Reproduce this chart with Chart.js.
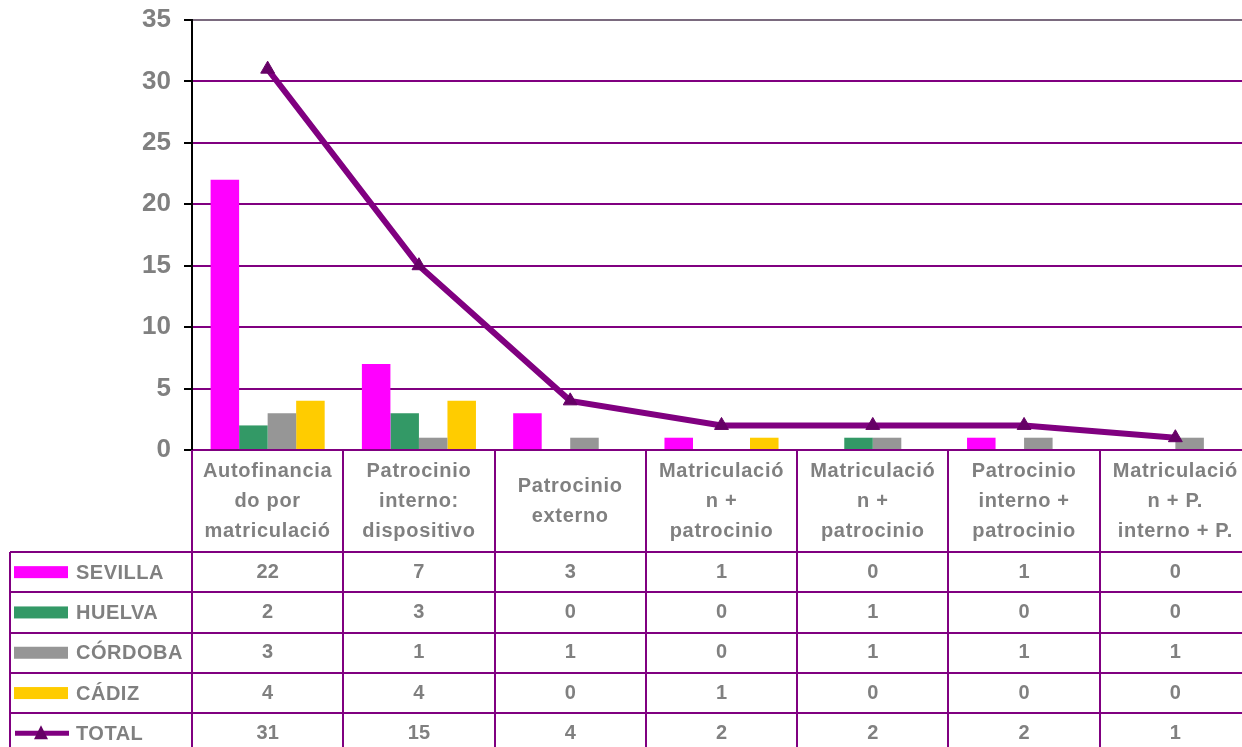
<!DOCTYPE html>
<html>
<head>
<meta charset="utf-8">
<script src="https://cdn.jsdelivr.net/npm/chart.js@4"></script>
<style>
  html, body { margin: 0; padding: 0; background: #fff; overflow: hidden; }
  canvas { display: block; }
</style>
</head>
<body>
<canvas id="chart" width="1252" height="747"></canvas>
<script>
const categories = [
  ['Autofinancia', 'do por', 'matriculació'],
  ['Patrocinio', 'interno:', 'dispositivo'],
  ['Patrocinio', 'externo'],
  ['Matriculació', 'n +', 'patrocinio'],
  ['Matriculació', 'n +', 'patrocinio'],
  ['Patrocinio', 'interno +', 'patrocinio'],
  ['Matriculació', 'n + P.', 'interno + P.'],
];
const seriesNames = ['SEVILLA', 'HUELVA', 'CÓRDOBA', 'CÁDIZ', 'TOTAL'];
const seriesColors = ['#FF00FF', '#339966', '#969696', '#FFCC00', '#800080'];
const sevilla = [22, 7, 3, 1, 0, 1, 0];
const huelva = [2, 3, 0, 0, 1, 0, 0];
const cordoba = [3, 1, 1, 0, 1, 1, 1];
const cadiz = [4, 4, 0, 1, 0, 0, 0];
const total = [31, 15, 4, 2, 2, 2, 1];
const yTicks = [0, 5, 10, 15, 20, 25, 30, 35];

const FONT = "'Liberation Sans', Arial, sans-serif";
const GRAY = '#808080';
const PURPLE = '#800080';

// data table under the plot, lined up with the x scale
const tablePlugin = {
  id: 'dataTable',
  afterDraw(chart) {
    const ctx = chart.ctx;
    const area = chart.chartArea;
    const xs = chart.scales.x;
    const n = categories.length;
    const colW = (area.right - area.left) / n;
    const headBottom = area.bottom + 102;
    const rowH = 40.3;
    const bottom = chart.height + 10;
    const rows = [sevilla, huelva, cordoba, cadiz, total];

    ctx.save();
    ctx.strokeStyle = PURPLE;
    ctx.lineWidth = 2;
    ctx.beginPath();
    for (let i = 0; i <= n; i++) {
      const x = Math.round(area.left + i * colW);
      ctx.moveTo(x, area.bottom);
      ctx.lineTo(x, bottom);
    }
    ctx.moveTo(10, headBottom);
    ctx.lineTo(10, bottom);
    for (let r = 0; r < rows.length; r++) {
      const y = Math.round(headBottom + r * rowH);
      ctx.moveTo(10, y);
      ctx.lineTo(area.right + 5, y);
    }
    ctx.stroke();

    // category headers
    ctx.fillStyle = GRAY;
    ctx.textAlign = 'center';
    ctx.textBaseline = 'middle';
    ctx.font = 'bold 20px ' + FONT;
    ctx.letterSpacing = '0.7px';
    const midHead = (area.bottom + headBottom) / 2;
    categories.forEach((lines, i) => {
      const cx = xs.getPixelForValue(i);
      const y0 = midHead - (lines.length - 1) * 15;
      lines.forEach((t, k) => ctx.fillText(t, cx, y0 + k * 30));
    });

    // rows: legend key, name, values
    rows.forEach((vals, r) => {
      const cy = headBottom + r * rowH + rowH / 2;
      const col = seriesColors[r];
      if (r < 4) {
        ctx.fillStyle = col;
        ctx.fillRect(14, cy - 6, 54, 12);
      } else {
        ctx.strokeStyle = col;
        ctx.lineWidth = 5;
        ctx.beginPath();
        ctx.moveTo(15, cy);
        ctx.lineTo(69, cy);
        ctx.stroke();
        ctx.fillStyle = '#660066';
        ctx.beginPath();
        ctx.moveTo(41, cy - 8);
        ctx.lineTo(48, cy + 6);
        ctx.lineTo(34, cy + 6);
        ctx.closePath();
        ctx.fill();
      }
      ctx.fillStyle = GRAY;
      ctx.textAlign = 'left';
      ctx.letterSpacing = '0.5px';
      ctx.fillText(seriesNames[r], 76, cy + 1);
      ctx.textAlign = 'center';
      ctx.letterSpacing = '0px';
      vals.forEach((v, i) => ctx.fillText(String(v), xs.getPixelForValue(i), cy));
    });
    ctx.restore();
  }
};

const barSets = [sevilla, huelva, cordoba, cadiz].map((d, i) => ({
  type: 'bar',
  label: seriesNames[i],
  data: d,
  backgroundColor: seriesColors[i],
  borderWidth: 0,
  categoryPercentage: 0.754,
  barPercentage: 1.0,
  order: 1
}));

new Chart(document.getElementById('chart'), {
  data: {
    labels: categories,
    datasets: [
      {
        type: 'line',
        label: seriesNames[4],
        data: total,
        borderColor: seriesColors[4],
        borderWidth: 6,
        pointStyle: 'triangle',
        pointRadius: 8,
        pointBackgroundColor: '#660066',
        pointBorderColor: '#660066',
        pointBorderWidth: 1,
        tension: 0,
        order: 0
      },
      ...barSets
    ]
  },
  options: {
    responsive: false,
    animation: false,
    layout: { autoPadding: false, padding: { top: 20, left: 0, right: 1, bottom: 0 } },
    plugins: { legend: { display: false }, tooltip: { enabled: false } },
    scales: {
      x: {
        grid: { display: false },
        border: { display: false },
        ticks: { display: false },
        afterFit: (s) => { s.height = 297; }
      },
      y: {
        min: 0,
        max: 35,
        afterBuildTicks: (s) => { s.ticks = yTicks.map(v => ({ value: v })); },
        ticks: {
          color: GRAY,
          font: { family: FONT, size: 26, weight: 'bold' },
          padding: 13
        },
        grid: {
          color: (c) => c.tick && c.tick.value === 35 ? '#7a6a7e' : PURPLE,
          lineWidth: 2,
          tickColor: '#000',
          tickLength: 8
        },
        border: { color: '#000', width: 2 },
        afterFit: (s) => { s.width = 192; s.paddingTop = 0; s.paddingBottom = 0; }
      }
    }
  },
  plugins: [tablePlugin]
});
</script>
</body>
</html>
